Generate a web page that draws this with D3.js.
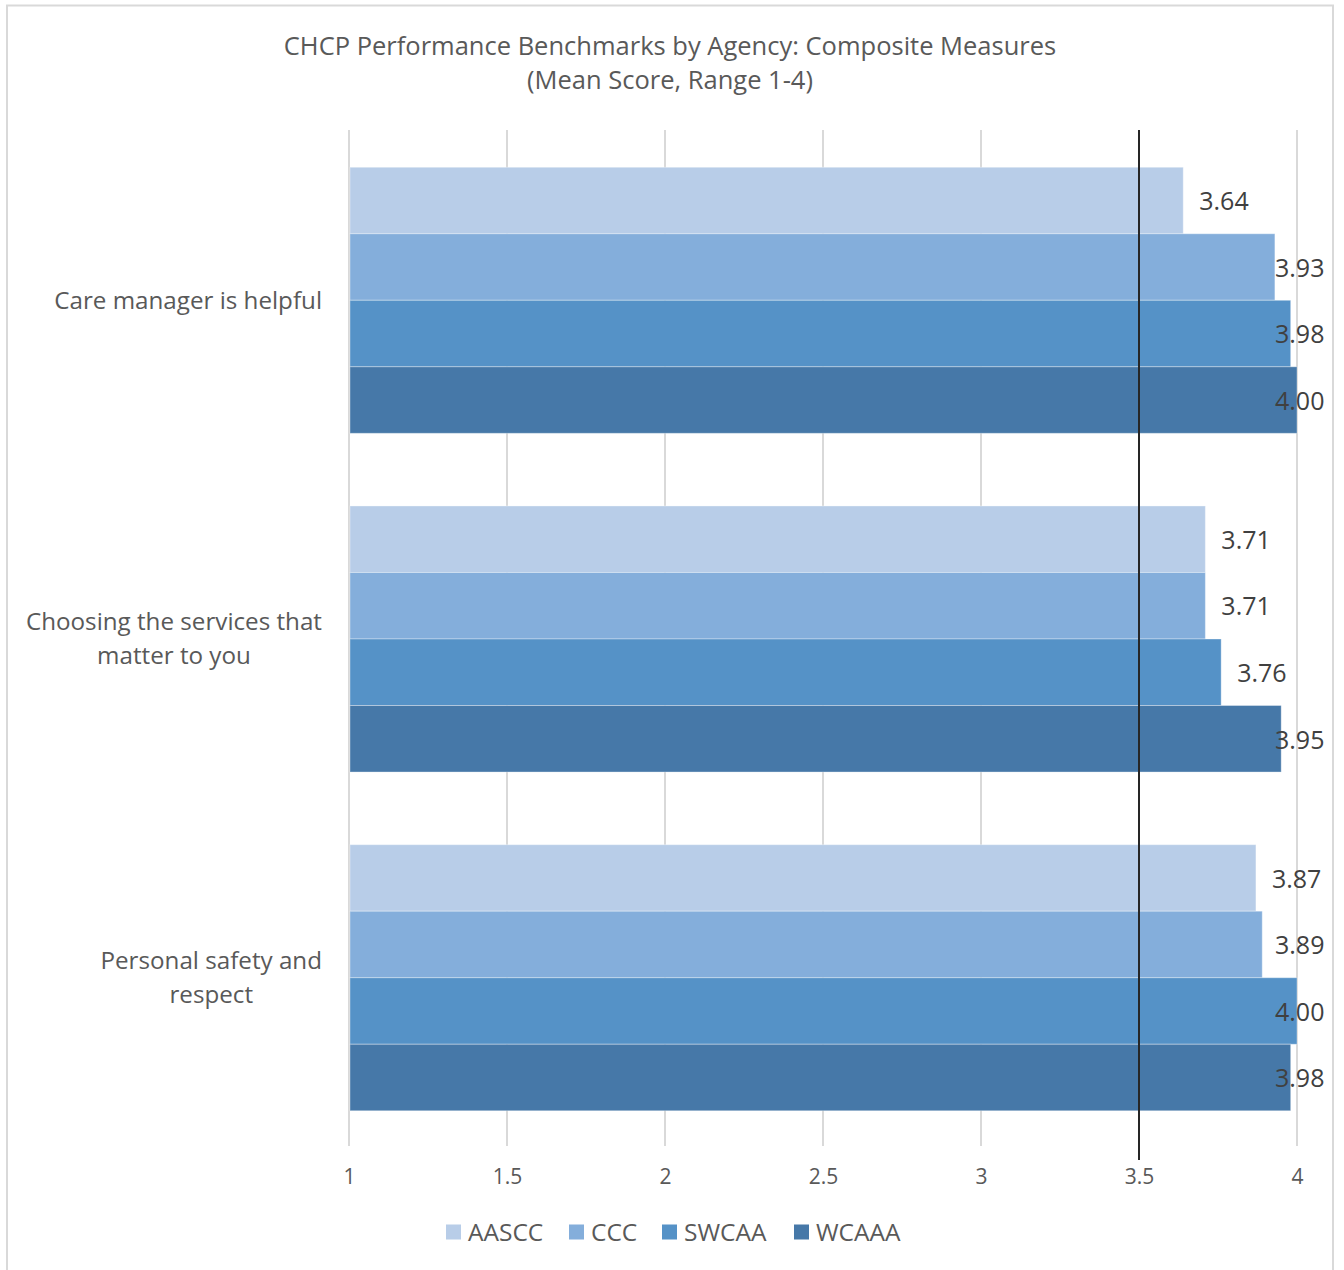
<!DOCTYPE html>
<html><head><meta charset="utf-8">
<script src="https://cdn.jsdelivr.net/npm/d3@7"></script>
<style>html,body{margin:0;padding:0;background:#fff;}svg{display:block;font-family:"Open Sans",sans-serif;}</style>
</head><body>
<script>
const categories = ["Care manager is helpful", "Choosing the services that matter to you", "Personal safety and respect"];
const categoryLines = [["Care manager is helpful"], ["Choosing the services that", "matter to you"], ["Personal safety and", "respect"]];
const seriesNames = ["AASCC", "CCC", "SWCAA", "WCAAA"];
const seriesColors = ["#B8CDE8", "#84AEDB", "#5592C7", "#4678A8"];
const AASCC = [3.64, 3.71, 3.87];
const CCC = [3.93, 3.71, 3.89];
const SWCAA = [3.98, 3.76, 4.00];
const WCAAA = [4.00, 3.95, 3.98];
const seriesValues = [AASCC, CCC, SWCAA, WCAAA];
const xTicks = [1, 1.5, 2, 2.5, 3, 3.5, 4];
const xTickLabels = ["1", "1.5", "2", "2.5", "3", "3.5", "4"];
const benchmark = 3.5;
const titleLines = ["CHCP Performance Benchmarks by Agency: Composite Measures", "(Mean Score, Range 1-4)"];

const W = 1344, H = 1270;
const svg = d3.select("body").append("svg").attr("width", W).attr("height", H);
svg.append("rect").attr("x", 7).attr("y", 5.5).attr("width", 1326).attr("height", 1280)
  .attr("fill", "#fff").attr("stroke", "#d9d9d9").attr("stroke-width", 2);

const plot = {left: 349, right: 1297, top: 130, bottom: 1146};
const x = d3.scaleLinear().domain([1, 4]).range([plot.left, plot.right]);
const y = d3.scaleBand().domain(categories).range([plot.top + 1, plot.bottom + 1]).paddingInner(0.2145).paddingOuter(0.107);
const ys = d3.scaleBand().domain(seriesNames).range([0, y.bandwidth()]);

// title
svg.append("g").selectAll("text").data(titleLines).join("text")
  .attr("x", 670).attr("y", (d, i) => 46 + i * 34).attr("dy", "0.35em")
  .attr("text-anchor", "middle").attr("fill", "#595959").attr("font-size", 25.5)
  .text(d => d);

// gridlines
svg.append("g").selectAll("line").data(xTicks.filter(t => t !== benchmark)).join("line")
  .attr("x1", d => x(d)).attr("x2", d => x(d)).attr("y1", plot.top).attr("y2", plot.bottom)
  .attr("stroke", "#d9d9d9").attr("stroke-width", 2);

// bars
const groups = svg.append("g").selectAll("g").data(categories).join("g")
  .attr("transform", d => `translate(0,${y(d)})`);
groups.each(function(cat, ci) {
  const g = d3.select(this);
  seriesNames.forEach((s, si) => {
    const v = seriesValues[si][ci];
    g.append("rect").attr("x", x(1) + 1).attr("y", ys(s))
      .attr("width", x(v) - x(1) - 1).attr("height", ys.bandwidth())
      .attr("fill", seriesColors[si]).attr("stroke", "#ffffff").attr("stroke-opacity", 0.35).attr("stroke-width", 1);
  });
});

// benchmark line
svg.append("line").attr("x1", x(benchmark)).attr("x2", x(benchmark))
  .attr("y1", plot.top).attr("y2", plot.bottom + 14)
  .attr("stroke", "#262626").attr("stroke-width", 2);

// value labels
groups.each(function(cat, ci) {
  const g = d3.select(this);
  seriesNames.forEach((s, si) => {
    const v = seriesValues[si][ci];
    g.append("text").attr("x", Math.min(x(v) + 16, 1275)).attr("y", ys(s) + ys.bandwidth() / 2 + 1)
      .attr("dy", "0.35em").attr("fill", "#404040").attr("font-size", 25)
      .text(v.toFixed(2));
  });
});

// category labels (multi-line blocks right-aligned, lines centred within the block)
groups.each(function(cat, ci) {
  const lines = categoryLines[ci];
  const g = d3.select(this);
  const texts = lines.map((ln, li) => g.append("text")
      .attr("y", y.bandwidth() / 2 + (li - (lines.length - 1) / 2) * 34)
      .attr("dy", "0.35em").attr("text-anchor", "middle").attr("fill", "#595959").attr("font-size", 24.2)
      .text(ln));
  const maxW = d3.max(texts, t => t.node().getComputedTextLength());
  texts.forEach(t => t.attr("x", 322 - maxW / 2));
});

// x axis
const axis = svg.append("g").attr("transform", `translate(0,${plot.bottom})`)
  .call(d3.axisBottom(x).tickValues(xTicks).tickFormat((d, i) => xTickLabels[i]).tickSize(0).tickPadding(31));
axis.select(".domain").remove();
axis.selectAll("text").attr("font-size", 21).attr("fill", "#595959").attr("font-family", "\"Open Sans\",sans-serif").attr("dy", "0.35em");

// legend
const legendX = [446, 569, 662, 794];
const leg = svg.append("g").selectAll("g").data(seriesNames).join("g")
  .attr("transform", (d, i) => `translate(${legendX[i]},1232)`);
leg.append("rect").attr("x", 0).attr("y", -7.5).attr("width", 15).attr("height", 15).attr("fill", (d, i) => seriesColors[i]);
leg.append("text").attr("x", 22).attr("y", 0).attr("dy", "0.35em").attr("font-size", 24.5).attr("fill", "#595959").text(d => d);
</script>
</body></html>
